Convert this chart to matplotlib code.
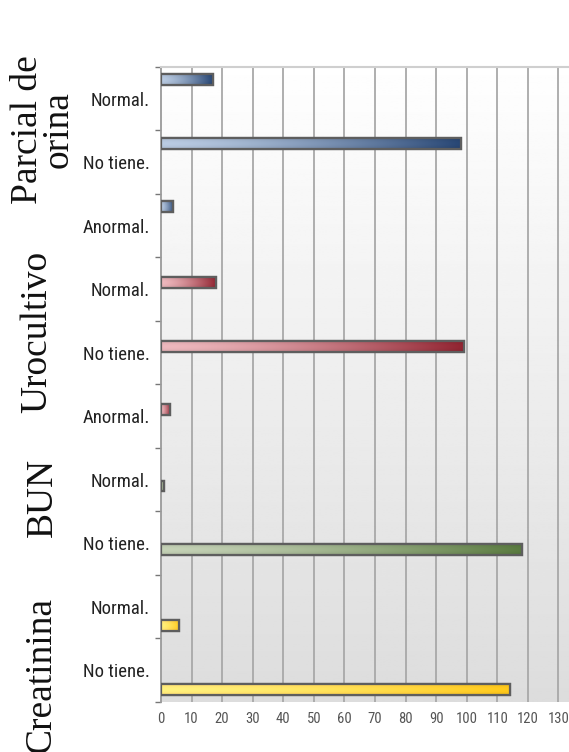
import numpy as np
import matplotlib
matplotlib.use("Agg")
import matplotlib.pyplot as plt
from matplotlib.colors import to_rgb

# categories top to bottom
labels = ['Normal.', 'No tiene.', 'Anormal.',
          'Normal.', 'No tiene.', 'Anormal.',
          'Normal.', 'No tiene.',
          'Normal.', 'No tiene.']
values = [17, 98, 4, 18, 99, 3, 1, 118, 6, 114]

groups = ['Parcial de\norina', 'Urocultivo', 'BUN', 'Creatinina']
group_sizes = [3, 3, 2, 2]

xticks = list(range(0, 131, 10))

# bar gradient colours for each group (light, dark)
group_colors = [
    ('#a9b9ce', '#24406a'),
    ('#d9a8ad', '#84202c'),
    ('#b3bfa6', '#52703a'),
    ('#f8dc72', '#ebb818'),
]
group_offsets = [-0.30, -0.10, 0.10, 0.30]

narrow = ['Roboto Condensed', 'Roboto', 'DejaVu Sans']

fig = plt.figure(figsize=(5.69, 7.52), dpi=100)
ax = fig.add_axes([0.283, 0.0665, 0.72, 0.8445])

n = len(labels)

# plot background gradient white -> light grey
bg = np.linspace(0.998, 0.865, 256).reshape(-1, 1)
ax.imshow(bg, cmap='gray', vmin=0, vmax=1, extent=(0, 1, 0, 1),
          transform=ax.transAxes, aspect='auto', zorder=0)

for x in xticks[1:]:
    ax.axvline(x, color='#a8a8a8', lw=1.3, zorder=1)

pos = 0
for g, size in enumerate(group_sizes):
    light = np.array(to_rgb(group_colors[g][0]))
    dark = np.array(to_rgb(group_colors[g][1]))
    for k in range(size):
        i = pos + k
        y = i + group_offsets[g]
        h = 0.17
        bars = ax.barh(y, values[i], height=h, color=group_colors[g][0],
                       edgecolor='#5e5e5e', linewidth=1.6, zorder=3)
        rect = bars[0]
        t = np.linspace(0, 1, 200) ** 1.4
        row = light[None, :] * (1 - t[:, None]) + dark[None, :] * t[:, None]
        shade = 1 + 0.10 * np.sin(np.linspace(0, np.pi, 20))
        img = np.clip(row[None, :, :] * shade[:, None, None], 0, 1)
        im = ax.imshow(img, extent=(0, values[i], y + h / 2, y - h / 2),
                       aspect='auto', zorder=3.5)
        im.set_clip_path(rect)
        # border drawn again on top of the gradient
        ax.barh(y, values[i], height=h, fill=False, edgecolor='#5e5e5e',
                linewidth=1.6, zorder=4)
    pos += size

ax.set_xlim(0, 134)
ax.set_ylim(n - 0.5, -0.5)

ax.set_yticks(range(n))
ax.set_yticklabels(labels, family=narrow, fontsize=13.5, color='#222222')
ax.set_yticks(np.arange(-0.5, n, 1), minor=True)
ax.tick_params(axis='y', which='major', length=0, pad=8)
ax.tick_params(axis='y', which='minor', length=4, color='#777777', width=1)

ax.set_xticks(xticks)
ax.set_xticklabels([str(x) for x in xticks], family=narrow,
                   fontsize=10.5, color='#555555')
ax.tick_params(axis='x', length=0, pad=7)

for side in ['right', 'bottom']:
    ax.spines[side].set_visible(False)
ax.spines['top'].set_color('#cfcfcf')
ax.spines['top'].set_linewidth(1.5)
ax.spines['left'].set_color('#9a9a9a')
ax.spines['left'].set_linewidth(1.3)

# rotated group titles on the left
group_y = [130, 332, 497, 675]
group_x = [43, 37, 43, 41]
for name, yy, xx in zip(groups, group_y, group_x):
    fig.text(xx / 569, 1 - yy / 752, name, rotation=90, ha='center',
             va='center', family=['Liberation Serif', 'DejaVu Serif'],
             fontsize=27, color='#111111', linespacing=0.85)

fig.savefig('out.png', dpi=100)
